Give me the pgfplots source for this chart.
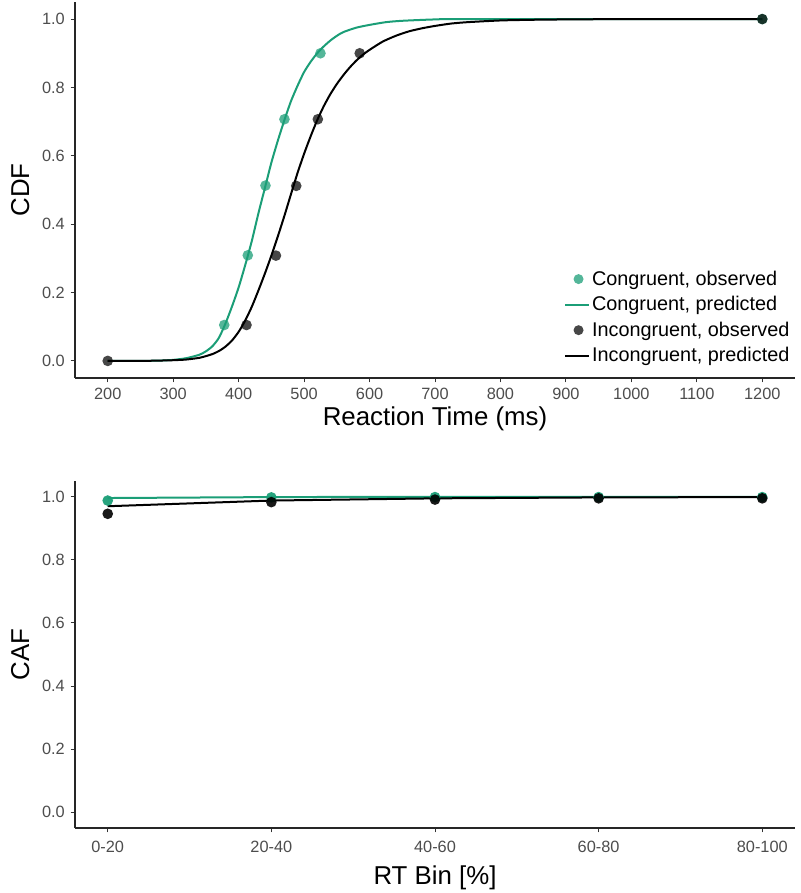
\documentclass[border=0pt]{standalone}
\usepackage{fontspec}
\setmainfont{Liberation Sans}
\usepackage{pgfplots}
\pgfplotsset{compat=1.18}
\definecolor{cgreen}{HTML}{1B9E77}
\definecolor{ticklab}{HTML}{4D4D4D}
\definecolor{tickcol}{HTML}{333333}

\pgfplotstableread{
x y
378 0.105
414 0.309
441 0.513
470 0.707
525 0.900
1200 1.000
}\congobs
\pgfplotstableread{
x y
200 0.000
412 0.105
457 0.308
488 0.512
521 0.707
585 0.900
1200 1.000
}\incobs
\pgfplotstableread{
x y
200 0.000
250 0.000
280 0.001
300 0.003
320 0.008
340 0.018
350 0.028
360 0.043
370 0.068
380 0.110
390 0.160
400 0.215
410 0.280
420 0.350
430 0.430
440 0.505
450 0.580
460 0.645
470 0.705
480 0.760
490 0.805
500 0.845
510 0.875
520 0.900
530 0.920
540 0.937
550 0.951
560 0.962
580 0.975
600 0.983
625 0.991
650 0.995
700 0.999
750 1.000
1200 1.000
}\congpred
\pgfplotstableread{
x y
200 0.000
250 0.000
280 0.001
300 0.002
320 0.004
340 0.009
350 0.014
360 0.020
370 0.029
380 0.042
390 0.060
400 0.085
410 0.118
420 0.158
430 0.205
440 0.255
450 0.308
460 0.365
470 0.425
480 0.488
490 0.550
500 0.606
510 0.657
520 0.704
530 0.745
540 0.780
550 0.810
560 0.836
570 0.859
580 0.879
590 0.896
600 0.910
620 0.934
640 0.951
660 0.964
680 0.973
700 0.980
725 0.987
750 0.991
800 0.996
850 0.998
900 0.999
1000 1.000
1200 1.000
}\incpred

\begin{document}
\begin{tikzpicture}[x=1pt,y=1pt]
\useasboundingbox (0,0) rectangle (480,535.8);
\pgfplotsset{
  base/.style={
    scale only axis, width=432pt,
    axis x line*=bottom, axis y line*=left,
    axis line style={line width=0.8pt, black!85},
    tick align=outside, major tick length=2.6pt,
    tick style={line width=0.6pt, tickcol},
    ticklabel style={font=\fontsize{9.8}{11}\selectfont, text=ticklab},
    /pgf/number format/assume math mode=true,
    ymin=-0.05, ymax=1.05, ytick={0,0.2,0.4,0.6,0.8,1.0},
    yticklabel style={/pgf/number format/fixed, /pgf/number format/fixed zerofill, /pgf/number format/precision=1},
    every axis y label/.style={at={(axis description cs:-0.076,0.5)}, rotate=90, anchor=center, font=\fontsize{15.5}{18}\selectfont},
    clip=false,
  },
  gpt/.style={only marks, mark=*, mark size=3.2pt, color=cgreen, mark options={fill=cgreen, draw opacity=0, fill opacity=#1}},
  kpt/.style={only marks, mark=*, mark size=3.2pt, color=black, mark options={fill=black, draw opacity=0, fill opacity=#1}},
  mleg/.style={legend image code/.code={\path[draw=none] (0pt,0pt) -- (14pt,0pt); \draw[##1, draw=none] plot coordinates {(8pt,0pt)};}},
  lleg/.style={legend image code/.code={\draw[##1] (0pt,0pt) -- (14pt,0pt);}},
}
% top panel
\begin{axis}[base, at={(45pt,309pt)}, anchor=south west, height=225.6pt,
  xmin=150, xmax=1250, xtick={200,300,...,1200}, scaled x ticks=false,
  xticklabel style={/pgf/number format/1000 sep={}},
  xlabel={Reaction Time (ms)}, ylabel={CDF},
  every axis x label/.style={at={(axis description cs:0.5,-0.108)}, anchor=center, font=\fontsize{15.5}{18}\selectfont},
  legend style={at={(axis description cs:0.679,0.293)}, anchor=north west, draw=none, fill=none,
    font=\fontsize{11.9}{14}\selectfont, row sep=2.2pt, inner sep=0pt,
    nodes={inner sep=1.5pt}},
  legend cell align=left,
]
\addlegendimage{gpt=0.75, mark size=3pt, draw=none, mleg}
\addlegendentry{Congruent, observed}
\addlegendimage{cgreen, line width=1.2pt, lleg}
\addlegendentry{Congruent, predicted}
\addlegendimage{kpt=0.72, mark size=3pt, draw=none, mleg}
\addlegendentry{Incongruent, observed}
\addlegendimage{black, line width=1.2pt, lleg}
\addlegendentry{Incongruent, predicted}

\addplot[cgreen, line width=1.2pt, smooth, tension=0.4, forget plot] table[x=x,y=y] {\congpred};
\addplot[black, line width=1.2pt, smooth, tension=0.4, forget plot] table[x=x,y=y] {\incpred};
\addplot[gpt=0.75, forget plot] table[x=x,y=y] {\congobs};
\addplot[kpt=0.72, forget plot] table[x=x,y=y] {\incobs};
\end{axis}
% bottom panel
\begin{axis}[base, at={(45pt,39pt)}, anchor=south west, height=208.2pt,
  xmin=0.8, xmax=5.2, xtick={1,2,3,4,5},
  xticklabels={0-20,20-40,40-60,60-80,80-100},
  xticklabel style={yshift=-2pt},
  xlabel={RT Bin [\%]}, ylabel={CAF},
  every axis x label/.style={at={(axis description cs:0.5,-0.145)}, anchor=center, font=\fontsize{15.5}{18}\selectfont},
]
\addplot[cgreen, line width=1.2pt] coordinates {(1,0.996) (2,0.999) (3,1.000) (4,1.000) (5,1.000)};
\addplot[gpt=0.95] coordinates {(1,0.988) (2,0.998) (3,0.999) (4,0.999) (5,0.999)};
\addplot[black, line width=1.2pt] coordinates {(1,0.970) (2,0.988) (3,0.995) (4,0.998) (5,0.999)};
\addplot[kpt=0.9] coordinates {(1,0.946) (2,0.983) (3,0.991) (4,0.995) (5,0.995)};
\end{axis}
\end{tikzpicture}
\end{document}
